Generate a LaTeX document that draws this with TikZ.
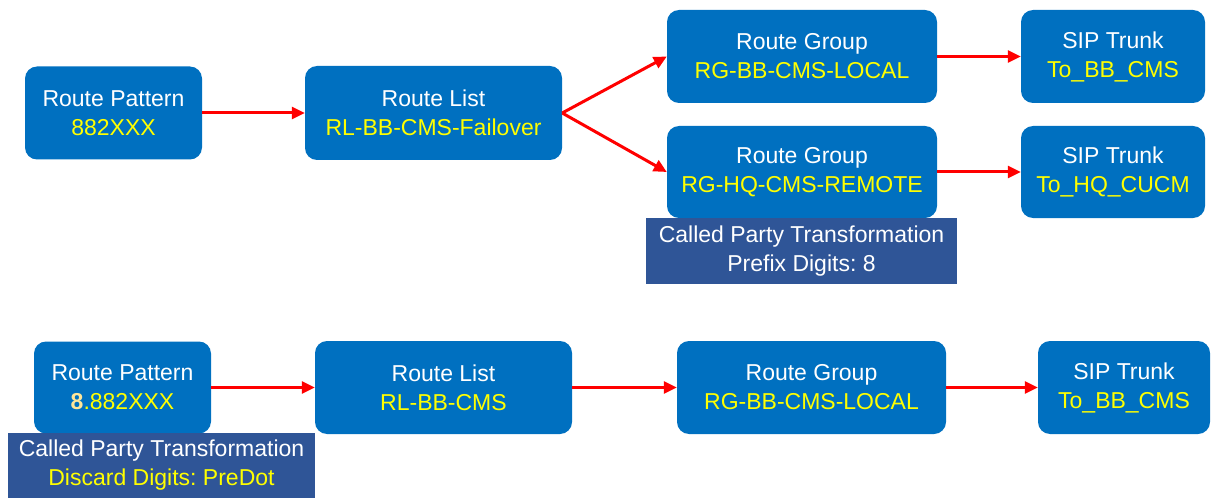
\documentclass[tikz,border=0pt]{standalone}
\usepackage{fontspec}
\setmainfont{Liberation Sans}
\usetikzlibrary{arrows.meta}
\definecolor{boxblue}{HTML}{0070C0}
\definecolor{cptblue}{HTML}{2F5597}
\definecolor{lbl}{HTML}{FFFF00}
\definecolor{dotdigit}{HTML}{FFE699}
\frenchspacing
\tikzset{
  elem/.style={fill=boxblue, rounded corners=12pt, text=white, align=center,
    inner sep=0pt, font=\fontsize{23}{29}\selectfont},
  cpt/.style={fill=cptblue, text=white, align=center, inner sep=0pt,
    font=\fontsize{23}{29}\selectfont},
  flow/.style={draw=red, line width=3pt, -{Triangle[length=13pt,width=12pt]}},
}
\newcommand{\yl}[1]{\textcolor{lbl}{#1}}
\begin{document}
\begin{tikzpicture}[x=1pt,y=-1pt]
\useasboundingbox (0,0) rectangle (1213,500);

% upper chain
\node[elem, minimum width=177pt, minimum height=93pt] (rp1) at (113.5,113) {Route Pattern\\\yl{882XXX}};
\node[elem, minimum width=257pt, minimum height=94pt] (rl1) at (433.5,113) {Route List\\\yl{RL-BB-CMS-Failover}};
\node[elem, minimum width=270pt, minimum height=93pt] (rg1) at (802,56.5) {Route Group\\\yl{RG-BB-CMS-LOCAL}};
\node[elem, minimum width=270pt, minimum height=92pt] (rg2) at (802,172) {Route Group\\\yl{RG-HQ-CMS-REMOTE}};
\node[elem, minimum width=184pt, minimum height=93pt] (sip1) at (1113,56.5) {SIP Trunk\\\yl{To\_BB\_CMS}};
\node[elem, minimum width=184pt, minimum height=92pt] (sip2) at (1113,172) {SIP Trunk\\\yl{To\_HQ\_CUCM}};
\node[cpt, minimum width=311pt, minimum height=66pt] (cpt1) at (801.5,251) {Called Party Transformation\\Prefix Digits: 8};

\draw[flow] (rp1.east) -- (rl1.west);
\draw[flow] (rl1.east) -- (rg1.west);
\draw[flow] (rl1.east) -- (rg2.west);
\draw[flow] (rg1.east) -- (sip1.west);
\draw[flow] (rg2.east) -- (sip2.west);

% lower chain
\node[elem, minimum width=177pt, minimum height=92pt] (rp2) at (122.5,387.5) {Route Pattern\\\textcolor{dotdigit}{\textbf{8}}\yl{.882XXX}};
\node[elem, minimum width=257pt, minimum height=93pt] (rl2) at (443.5,387.5) {Route List\\\yl{RL-BB-CMS}};
\node[elem, minimum width=269pt, minimum height=93pt] (rg3) at (811.5,387.5) {Route Group\\\yl{RG-BB-CMS-LOCAL}};
\node[elem, minimum width=172pt, minimum height=93pt] (sip3) at (1124,387.5) {SIP Trunk\\\yl{To\_BB\_CMS}};
\node[cpt, minimum width=307pt, minimum height=65pt] (cpt2) at (161.5,465.5) {Called Party Transformation\\\yl{Discard Digits: PreDot}};

\draw[flow] (rp2.east) -- (rl2.west);
\draw[flow] (rl2.east) -- (rg3.west);
\draw[flow] (rg3.east) -- (sip3.west);
\end{tikzpicture}
\end{document}
